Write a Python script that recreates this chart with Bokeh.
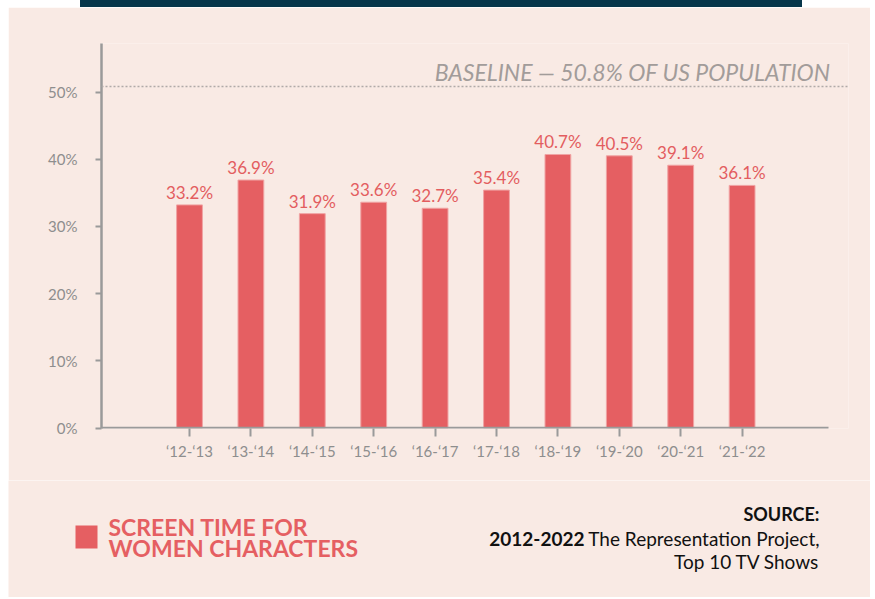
from bokeh.plotting import figure
from bokeh.models import Range1d, FixedTicker, Span, Label, ColumnDataSource, Div
from bokeh.layouts import column
from bokeh.core.properties import value
from bokeh.embed import file_html
from bokeh.resources import INLINE

seasons = ["\u201812-\u201813", "\u201813-\u201814", "\u201814-\u201815", "\u201815-\u201816", "\u201816-\u201817",
           "\u201817-\u201818", "\u201818-\u201819", "\u201819-\u201820", "\u201820-\u201821", "\u201821-\u201822"]
screen_time = [33.2, 36.9, 31.9, 33.6, 32.7, 35.4, 40.7, 40.5, 39.1, 36.1]
baseline = 50.8
y_ticks = [0, 10, 20, 30, 40, 50]

BG = "#f9eae4"
RED = "#e55f62"
NAVY = "#07364a"
GRAY = "#9a9a9a"
TXT_GRAY = "#8e8e8e"
FONT = "Lato"

# page-pixel geometry helpers (page px -> data coords of main chart)
X0PX, XSTEP = 189.0, 61.4
Y0PX, YSTEP = 427.5, 6.72
def px2x(px):
    return (px - X0PX) / XSTEP
def px2y(py):
    return (Y0PX - py) / YSTEP

# ---- top navy bar ----
top = Div(text="", width=722, height=7, margin=(0, 0, 0, 80),
          styles={"background-color": NAVY, "overflow": "hidden"})

# ---- main chart ----
PX_L, PX_R, PX_T, PX_B = 8, 870, 7, 480
FR_L, FR_R, FR_T, FR_B = 101, 848, 43, 428
xs = list(range(len(seasons)))
src = ColumnDataSource(dict(x=xs, v=screen_time, lab=[f"{v:.1f}%" for v in screen_time]))

p = figure(width=PX_R - PX_L, height=PX_B - PX_T, output_backend="svg", toolbar_location=None,
           x_range=Range1d(px2x(FR_L), px2x(FR_R)),
           y_range=Range1d(px2y(FR_B), px2y(FR_T)),
           min_border_left=FR_L - PX_L, min_border_right=PX_R - FR_R,
           min_border_top=FR_T - PX_T, min_border_bottom=PX_B - FR_B, frame_align=False)
p.margin = (0, 0, 0, 8)
p.background_fill_color = BG
p.border_fill_color = BG
p.outline_line_color = None
p.grid.grid_line_color = None

p.vbar(x="x", top="v", bottom=0, width=0.42, source=src, fill_color=RED,
       line_color="#f0a3a3", line_width=1)
p.text(x="x", y="v", text="lab", source=src, text_align="center", text_baseline="bottom",
       y_offset=-2, text_font=value(FONT), text_font_size="17px", text_color="#e35d5f")

# x axis line (shorter than frame)
p.segment(x0=[px2x(94)], y0=[0], x1=[px2x(828)], y1=[0], line_color=GRAY, line_width=2.5)

p.add_layout(Span(location=baseline, dimension="width", line_color="#b0aaa8",
                  line_dash="2 2", line_width=1.5))
p.add_layout(Label(x=px2x(830), y=baseline, text="BASELINE \u2014 50.8% OF US POPULATION",
                   text_align="right", text_baseline="bottom", y_offset=1,
                   text_font=FONT, text_font_style="italic", text_font_size="23px",
                   text_color="#a29c9a"))

xa = p.xaxis[0]
xa.ticker = FixedTicker(ticks=xs)
xa.major_label_overrides = {i: s for i, s in enumerate(seasons)}
xa.axis_line_color = None
xa.major_tick_line_color = GRAY
xa.major_tick_line_width = 2
xa.major_tick_out = 8
xa.major_tick_in = 0
xa.minor_tick_line_color = None
xa.major_label_standoff = 5
xa.major_label_text_font = FONT
xa.major_label_text_font_size = "15px"
xa.major_label_text_color = TXT_GRAY

ya = p.yaxis[0]
ya.ticker = FixedTicker(ticks=y_ticks)
ya.major_label_overrides = {t: f"{t}%" for t in y_ticks}
ya.axis_line_color = GRAY
ya.axis_line_width = 2.5
ya.major_tick_line_color = GRAY
ya.major_tick_line_width = 2
ya.major_tick_out = 6
ya.major_tick_in = 0
ya.minor_tick_line_color = None
ya.major_label_standoff = 18
ya.major_label_text_font = FONT
ya.major_label_text_font_size = "15px"
ya.major_label_text_color = TXT_GRAY

# ---- bottom panel: legend and source ----
BOT_T, BOT_B = 480, 597
bot = figure(width=PX_R - PX_L, height=BOT_B - BOT_T, output_backend="svg", toolbar_location=None,
             x_axis_location=None, y_axis_location=None, min_border=0, frame_align=False,
             x_range=Range1d(PX_L, PX_R), y_range=Range1d(BOT_B, BOT_T))
bot.margin = (0, 0, 0, 8)
bot.background_fill_color = BG
bot.border_fill_color = BG
bot.outline_line_color = None
bot.grid.visible = False

bot.quad(left=[75], right=[97], top=[525], bottom=[548], fill_color=RED, line_color=None)
for txt, py in [("SCREEN TIME FOR", 526), ("WOMEN CHARACTERS", 547)]:
    bot.add_layout(Label(x=108, y=py, text=txt, text_align="left", text_baseline="middle",
                         text_font=FONT, text_font_style="bold", text_font_size="23px",
                         text_color=RED))

bot.add_layout(Label(x=819, y=513, text="SOURCE:", text_align="right", text_baseline="middle",
                     text_font=FONT, text_font_style="bold", text_font_size="18px",
                     text_color="#111111"))
bot.add_layout(Label(x=819, y=538, text="The Representation Project,", text_align="right",
                     text_baseline="middle", text_font=FONT, text_font_size="19px",
                     text_color="#111111"))
bot.add_layout(Label(x=584, y=538, text="2012-2022", text_align="right", text_baseline="middle",
                     text_font=FONT, text_font_style="bold", text_font_size="19px",
                     text_color="#111111"))
bot.add_layout(Label(x=819, y=561, text="Top 10 TV Shows", text_align="right",
                     text_baseline="middle", text_font=FONT, text_font_size="19px",
                     text_color="#111111"))

layout = column(top, p, bot, spacing=0)
open("out.html", "w").write(file_html(layout, INLINE))
